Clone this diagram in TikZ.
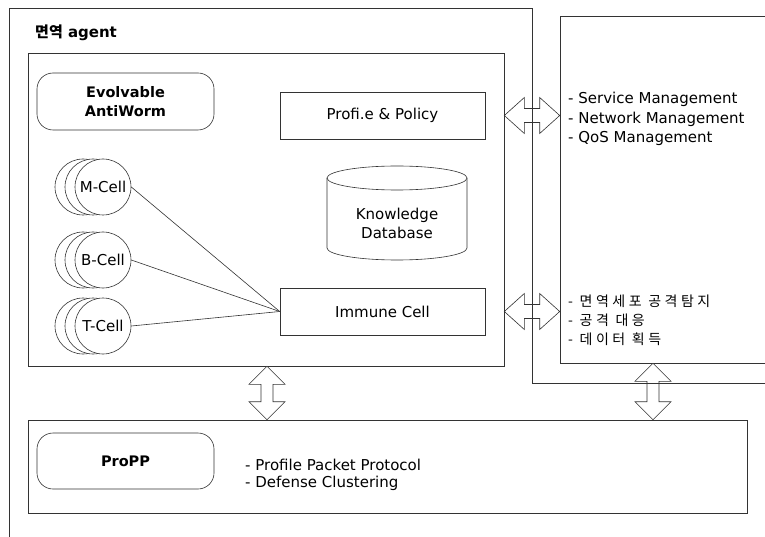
\documentclass[tikz,border=0pt]{standalone}
\usepackage{fontspec}
\setmainfont{DejaVu Sans}
\newfontfamily\kr{Noto Sans CJK KR}
\newfontfamily\krs[LetterSpace=25]{Noto Sans CJK KR}
\usetikzlibrary{calc}
\newcommand\hdarrow[2]{\draw[dblarrow] let \p1=(#1), \p2=(#2) in
  (\x1,\y1) -- ({\x1+20pt},{\y1+18pt}) -- ({\x1+20pt},{\y1+7pt}) -- ({\x2-20pt},{\y1+7pt})
  -- ({\x2-20pt},{\y1+18pt}) -- (\x2,\y1) -- ({\x2-20pt},{\y1-18pt}) -- ({\x2-20pt},{\y1-7pt})
  -- ({\x1+20pt},{\y1-7pt}) -- ({\x1+20pt},{\y1-18pt}) -- cycle;}
\newcommand\vdarrow[2]{\draw[dblarrow] let \p1=(#1), \p2=(#2) in
  (\x1,\y1) -- ({\x1-18pt},{\y1-18pt}) -- ({\x1-6pt},{\y1-18pt}) -- ({\x1-6pt},{\y2+18pt})
  -- ({\x1-18pt},{\y2+18pt}) -- (\x1,\y2) -- ({\x1+18pt},{\y2+18pt}) -- ({\x1+6pt},{\y2+18pt})
  -- ({\x1+6pt},{\y1-18pt}) -- ({\x1+18pt},{\y1-18pt}) -- cycle;}
\begin{document}
\begin{tikzpicture}[x=1pt,y=-1pt,
  line/.style={draw=black!80, line width=0.6pt},
  plainbox/.style={line, rectangle, inner sep=0pt, fill=white},
  roundbox/.style={line, rectangle, rounded corners=16pt, inner sep=0pt, fill=white},
  cellc/.style={line, circle, fill=white, minimum size=56pt, inner sep=0pt},
  txt/.style={inner sep=0pt, font=\fontsize{15}{19}\selectfont},
  btxt/.style={inner sep=0pt, font=\fontsize{14.5}{19}\selectfont\bfseries},
  dblarrow/.style={line, fill=white, line join=miter}]
\useasboundingbox (0,0) rectangle (765,537);
\clip (0,0) rectangle (765,537);
\fill[white] (0,0) rectangle (765,537);

% boxes
\node[plainbox, minimum width=476pt, minimum height=313pt] (inner) at (266,209.5) {};
\node[plainbox, minimum width=230pt, minimum height=347pt] (mgmt) at (675,189.5) {};
\node[plainbox, minimum width=719pt, minimum height=93pt] (pbox) at (387.5,466.5) {};

\node[roundbox, minimum width=177pt, minimum height=57pt, btxt, align=center] (evo) at (125.5,101.5) {Evolvable\\AntiWorm};
\node[roundbox, minimum width=177pt, minimum height=56pt, btxt] (propp) at (125.5,461) {ProPP};
\node[plainbox, minimum width=205pt, minimum height=47pt, txt] (pp) at (382.5,115.5) {Profi.e \& Policy};
\node[plainbox, minimum width=205pt, minimum height=47pt, txt] (imm) at (382.5,311.5) {Immune Cell};

% knowledge database cylinder
\draw[line, fill=white] (327,178) -- (327,248) arc[start angle=180, end angle=360, x radius=70pt, y radius=12pt] -- (467,178);
\draw[line, fill=white] (397,178) ellipse[x radius=70pt, y radius=12pt];
\node[txt, align=center] (kdb) at (397,223) {Knowledge\\Database};

% cells
\foreach \n/\y/\t in {m/187/M-Cell, b/260/B-Cell, t/326/T-Cell} {
  \node[cellc] (\n1) at (83,\y) {};
  \node[cellc] (\n2) at (93,\y) {};
  \node[cellc, txt] (\n3) at (103,\y) {\t};
  \draw[line] (\n3.east) -- (imm.west);
}

% arrows
\hdarrow{inner.east |- pp.center}{mgmt.west |- pp.center}
\hdarrow{inner.east |- imm.center}{mgmt.west |- imm.center}
\coordinate (a3t) at ($(inner.south)+(1,0)$);
\vdarrow{a3t}{a3t |- pbox.north}
\coordinate (a4t) at ($(mgmt.south)+(-22,0)$);
\vdarrow{a4t}{a4t |- pbox.north}

% outer frame
\coordinate (f1) at (9,545);
\coordinate (f2) at (9,8);
\coordinate (f3) at (532,8);
\coordinate (f4) at (532,383);
\coordinate (f5) at (775,383);
\draw[line] (f1) -- (f2) -- (f3) -- (f4) -- (f5);

% texts
\node[inner sep=0pt, anchor=west, font=\fontsize{15}{18}\selectfont\bfseries] (title) at (35,33) {{\kr\bfseries 면역} agent};
\node[txt, anchor=west, align=left, font=\fontsize{15}{19.5}\selectfont] (svc) at (568,119) {- Service Management\\- Network Management\\- QoS Management};
\node[inner sep=0pt, anchor=west, align=left, font=\krs\fontsize{14}{19}\selectfont] (kor) at (568,320) {- 면역세포 공격탐지\\- 공격 대응\\- 데이터 획득};
\node[txt, anchor=west, align=left, font=\fontsize{15}{17}\selectfont] (ppt) at (245,474.5) {- Profile Packet Protocol\\- Defense Clustering};
\end{tikzpicture}
\end{document}
